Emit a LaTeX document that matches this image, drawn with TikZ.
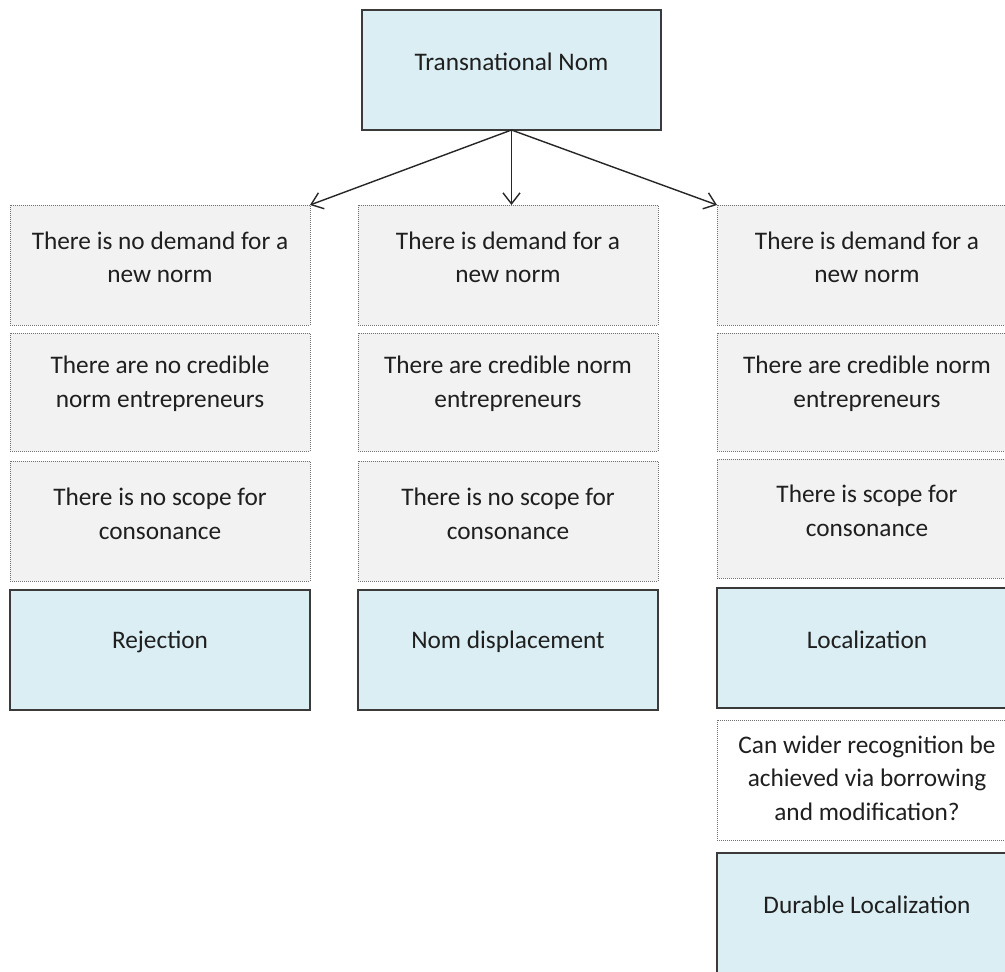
\documentclass[tikz,border=0pt]{standalone}
\usepackage{fontspec}
\setmainfont{Carlito}
\usetikzlibrary{arrows.meta}
\definecolor{boxblue}{HTML}{DAEEF3}
\definecolor{boxgray}{HTML}{F2F2F2}
\definecolor{edgedark}{HTML}{3A3A3A}
\definecolor{edgegray}{HTML}{707070}
\definecolor{txtcol}{HTML}{1F1F1F}
\begin{document}
\begin{tikzpicture}[x=1pt,y=-1pt,
  box/.style={rectangle, minimum width=300pt, minimum height=120pt, inner sep=0pt, outer sep=0pt},
  bluebox/.style={box, fill=boxblue, draw=edgedark, line width=1.5pt},
  graybox/.style={box, fill=boxgray, draw=edgegray, line width=1pt, densely dotted},
  whitebox/.style={box, fill=white, draw=edgegray, line width=1pt, densely dotted},
  txt/.style={align=center, inner sep=0pt, text=txtcol, font=\fontsize{25.3}{33.5}\selectfont},
  conn/.style={draw=black!85, line width=1.4pt, -{Straight Barb[length=11pt,width=17pt,line width=1.4pt]}}
]
\useasboundingbox (0,0) rectangle (1005,972);
\fill[white] (0,0) rectangle (1005,972);

% top
\node[bluebox, minimum width=299pt] (top) at (511.5,70) {};
\node[txt] (topt) at ([yshift=8pt]top.center) {Transnational Nom};

% left column
\node[graybox] (L1) at (160,265) {};
\node[txt] (L1t) at ([yshift=7.5pt]L1.center) {There is no demand for a\\new norm};
\node[graybox, minimum height=118pt] (L2) at (160,392) {};
\node[txt] (L2t) at ([yshift=8pt]L2.center) {There are no credible\\norm entrepreneurs};
\node[graybox] (L3) at (160,521) {};
\node[txt] (L3t) at ([yshift=7pt]L3.center) {There is no scope for\\consonance};
\node[bluebox] (L4) at (160,650) {};
\node[txt] (L4t) at ([yshift=8pt]L4.center) {Rejection};

% middle column
\node[graybox] (M1) at (508,265) {};
\node[txt] (M1t) at ([yshift=7.5pt]M1.center) {There is demand for a\\new norm};
\node[graybox, minimum height=118pt] (M2) at (508,392) {};
\node[txt] (M2t) at ([yshift=8pt]M2.center) {There are credible norm\\entrepreneurs};
\node[graybox] (M3) at (508,521) {};
\node[txt] (M3t) at ([yshift=7pt]M3.center) {There is no scope for\\consonance};
\node[bluebox] (M4) at (508,650) {};
\node[txt] (M4t) at ([yshift=8pt]M4.center) {Nom displacement};

% right column
\node[graybox] (R1) at (867,265) {};
\node[txt] (R1t) at ([yshift=7.5pt]R1.center) {There is demand for a\\new norm};
\node[graybox, minimum height=118pt] (R2) at (867,392) {};
\node[txt] (R2t) at ([yshift=8pt]R2.center) {There are credible norm\\entrepreneurs};
\node[graybox, minimum height=119pt] (R3) at (867,518.5) {};
\node[txt] (R3t) at ([yshift=7.5pt]R3.center) {There is scope for\\consonance};
\node[bluebox] (R4) at (867,648) {};
\node[txt] (R4t) at ([yshift=8pt]R4.center) {Localization};
\node[whitebox] (R5) at (867,780) {};
\node[txt] (R5t) at ([yshift=2pt]R5.center) {Can wider recognition be\\achieved via borrowing\\and modification?};
\node[bluebox] (R6) at (867,913) {};
\node[txt] (R6t) at ([yshift=8pt]R6.center) {Durable Localization};

% connectors
\draw[conn] (top.south) -- (L1.north east);
\draw[conn] (top.south) -- (top.south |- M1.north);
\draw[conn] (top.south) -- (R1.north west);
\end{tikzpicture}
\end{document}
